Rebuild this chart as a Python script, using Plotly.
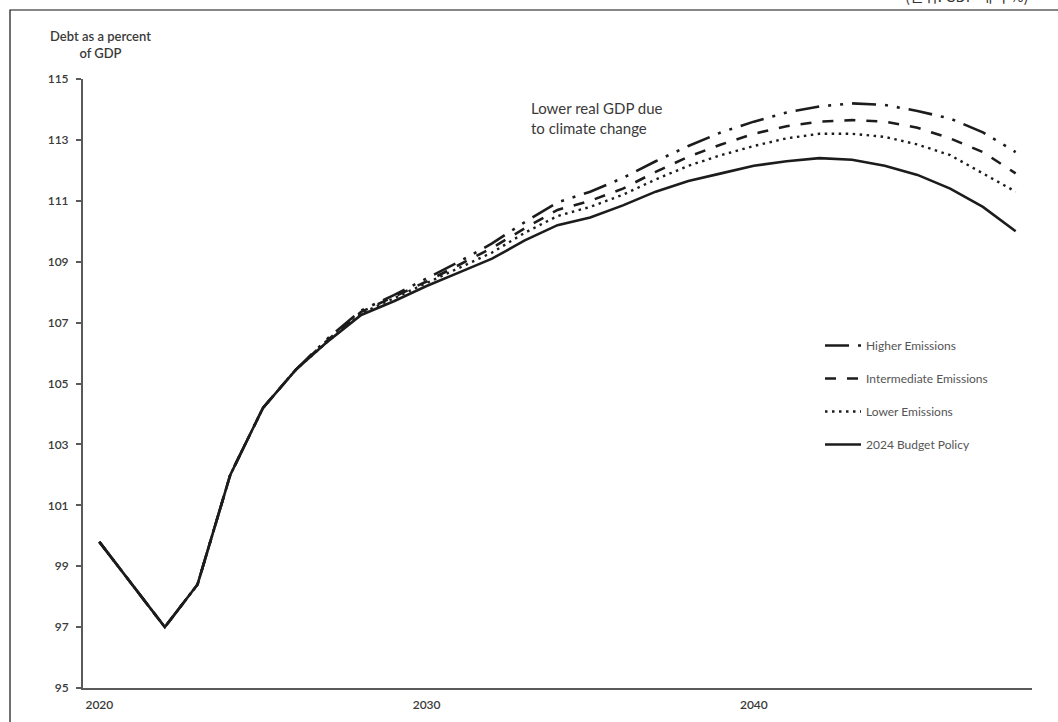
import plotly.graph_objects as go

# Years on the horizontal axis
years = list(range(2020, 2049))

# Debt as a percent of GDP, by scenario
budget_policy = [99.8, 98.4, 97.0, 98.4, 102.0, 104.2, 105.45, 106.4, 107.25, 107.7,
                 108.2, 108.65, 109.1, 109.7, 110.2, 110.45, 110.85, 111.3, 111.65, 111.9,
                 112.15, 112.3, 112.4, 112.35, 112.15, 111.85, 111.4, 110.8, 110.0]
lower_emissions = [99.8, 98.4, 97.0, 98.4, 102.0, 104.2, 105.45, 106.4, 107.3, 107.8,
                   108.3, 108.8, 109.3, 109.95, 110.5, 110.8, 111.2, 111.7, 112.15, 112.5,
                   112.8, 113.05, 113.2, 113.2, 113.1, 112.85, 112.5, 111.9, 111.3]
intermediate_emissions = [99.8, 98.4, 97.0, 98.4, 102.0, 104.2, 105.45, 106.45, 107.35, 107.85,
                          108.35, 108.9, 109.45, 110.1, 110.7, 111.0, 111.4, 111.95, 112.45, 112.85,
                          113.2, 113.45, 113.6, 113.65, 113.6, 113.4, 113.05, 112.6, 111.9]
higher_emissions = [99.8, 98.4, 97.0, 98.4, 102.0, 104.2, 105.45, 106.5, 107.4, 107.9,
                    108.45, 109.0, 109.6, 110.3, 110.95, 111.3, 111.75, 112.3, 112.8, 113.25,
                    113.6, 113.9, 114.1, 114.2, 114.15, 113.95, 113.7, 113.25, 112.6]

y_ticks = list(range(95, 116, 2))
x_ticks = [2020, 2030, 2040]

INK = "#1c1c1c"
AXIS = "#5a5a5a"
TEXT = "#3a3a3a"
FONT = "Lato, 'Open Sans', sans-serif"

fig = go.Figure()

series = [
    ("Higher Emissions", higher_emissions, "24px,9px,3px,9px,3px,9px", 2.6),
    ("Intermediate Emissions", intermediate_emissions, "11px,11px", 2.6),
    ("Lower Emissions", lower_emissions, "2.5px,4.5px", 2.4),
    ("2024 Budget Policy", budget_policy, "solid", 2.6),
]
for i, (name, vals, dash, width) in enumerate(series):
    fig.add_trace(go.Scatter(
        x=years, y=vals, mode="lines", name=name, legendgroup=f"g{i}",
        line=dict(color=INK, width=width, dash=dash),
    ))

# Plot-area geometry in pixels (page is 1058 x 722)
L, R, T, B = 83, 1032, 79, 688
W, H = R - L, B - T


def px_x(px):
    return (px - L) / W


def px_y(py):
    return (B - py) / H


fig.update_layout(
    width=1058, height=722,
    margin=dict(l=L, r=1058 - R, t=T, b=722 - B, pad=0, autoexpand=False),
    paper_bgcolor="white", plot_bgcolor="white",
    font=dict(family=FONT, color=TEXT, size=12),
    showlegend=True,
    legend=dict(
        x=px_x(820), y=px_y(331), xanchor="left", yanchor="top",
        font=dict(family=FONT, size=12, color="#555555"),
        bgcolor="rgba(0,0,0,0)", tracegroupgap=14, itemwidth=36,
    ),
    xaxis=dict(
        range=[2019.5, 2048.5], tickvals=x_ticks, ticktext=[str(v) for v in x_ticks],
        ticks="", showgrid=False, zeroline=False, automargin=False,
        showline=True, linecolor=AXIS, linewidth=2, ticklabelstandoff=5,
        tickfont=dict(family=FONT, size=12, color=TEXT, weight=600),
    ),
    yaxis=dict(
        range=[95, 115], tickvals=y_ticks, ticks="outside", ticklen=5,
        tickcolor=AXIS, tickwidth=1.5, showgrid=False, zeroline=False, automargin=False,
        showline=True, linecolor=AXIS, linewidth=2, ticklabelstandoff=5,
        tickfont=dict(family=FONT, size=12, color=TEXT, weight=600),
    ),
    annotations=[
        dict(text="Debt as a percent<br>of GDP", xref="paper", yref="paper",
             x=px_x(100), y=px_y(44.5), xanchor="center", yanchor="middle",
             align="center", showarrow=False,
             font=dict(family=FONT, size=13, color=TEXT, weight=600)),
        dict(text="Lower real GDP due<br>to climate change", xref="paper", yref="paper",
             x=px_x(529), y=px_y(118), xanchor="left", yanchor="middle",
             align="left", showarrow=False,
             font=dict(family=FONT, size=15, color=TEXT)),
        dict(text="(단위: GDP 대비 %)", xref="paper", yref="paper",
             x=px_x(903), y=px_y(8), xanchor="left", yanchor="bottom",
             showarrow=False,
             font=dict(family="'Noto Sans CJK KR', sans-serif", size=15, color="#333333")),
    ],
    shapes=[
        dict(type="rect", xref="paper", yref="paper",
             x0=px_x(10), x1=px_x(1080), y0=px_y(760), y1=px_y(10),
             line=dict(color="#111111", width=1.2), fillcolor="rgba(0,0,0,0)",
             layer="below"),
    ],
)

fig.write_html("out.html")
